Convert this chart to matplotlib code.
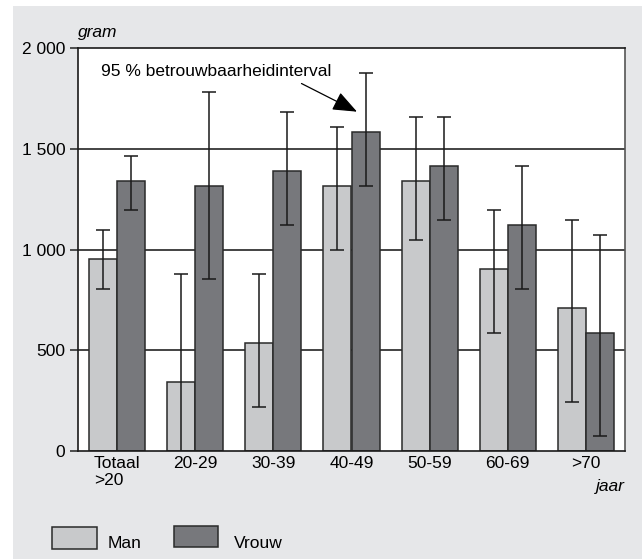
import numpy as np
import matplotlib.pyplot as plt
from matplotlib.patches import Rectangle

plt.rcParams['font.family'] = ['Liberation Sans', 'DejaVu Sans']

categories = ['Totaal\n>20', '20-29', '30-39', '40-49', '50-59', '60-69', '>70']
man = [951, 343, 537, 1317, 1342, 901, 708]
man_low = [805, -190, 219, 999, 1049, 585, 244]
man_high = [1097, 877, 877, 1611, 1659, 1195, 1147]
vrouw = [1342, 1317, 1390, 1586, 1415, 1122, 585]
vrouw_low = [1195, 853, 1122, 1317, 1147, 805, 73]
vrouw_high = [1463, 1781, 1685, 1877, 1659, 1415, 1074]

licht = '#c8c9cb'
donker = '#77787c'
rand = '#2a2a2a'
achtergrond = '#e6e7e9'

fig = plt.figure(figsize=(6.42, 5.59), dpi=100, facecolor='white')
fig.patches.append(Rectangle((13 / 642, 0), 1, (559 - 6) / 559, transform=fig.transFigure,
                             facecolor=achtergrond, edgecolor='none', zorder=-10))
ax = fig.add_axes([78 / 642, (559 - 450.7) / 559, 547 / 642, 402.4 / 559])

x = np.arange(len(categories))
w = 0.36
man = np.array(man)
vrouw = np.array(vrouw)
man_err = [man - np.array(man_low), np.array(man_high) - man]
vrouw_err = [vrouw - np.array(vrouw_low), np.array(vrouw_high) - vrouw]

for yv in [500, 1000, 1500]:
    ax.axhline(yv, color='#111111', lw=1.1, zorder=0)

ax.bar(x - w / 2, man, w, color=licht, edgecolor=rand, lw=1.1, zorder=2)
ax.bar(x + w / 2, vrouw, w, color=donker, edgecolor=rand, lw=1.1, zorder=2)
ax.errorbar(x - w / 2, man, yerr=man_err, fmt='none', ecolor='#1a1a1a', elinewidth=1.1,
            capsize=5.3, capthick=1.1, zorder=3)
ax.errorbar(x + w / 2, vrouw, yerr=vrouw_err, fmt='none', ecolor='#1a1a1a', elinewidth=1.1,
            capsize=5.3, capthick=1.1, zorder=3)

ax.set_xlim(-0.5, len(categories) - 0.5)
ax.set_ylim(0, 2000)
ax.set_yticks([0, 500, 1000, 1500, 2000])
ax.set_yticklabels(['0', '500', '1 000', '1 500', '2 000'], fontsize=12.5)
ax.set_xticks(x)
ax.set_xticklabels(categories, fontsize=12.5, multialignment='left', linespacing=1.15)
ax.tick_params(axis='x', length=0, pad=4)
ax.tick_params(axis='y', direction='out', length=6, width=1.1, color='#222222', pad=3)

for s in ['left', 'top', 'bottom']:
    ax.spines[s].set_color('#1a1a1a')
    ax.spines[s].set_linewidth(1.2)
ax.spines['right'].set_color('#555555')
ax.spines['right'].set_linewidth(1.2)

ax.text(0.0, 1.04, 'gram', transform=ax.transAxes, fontsize=12.5, style='italic',
        ha='left', va='center')
ax.text(1.0, -0.089, 'jaar', transform=ax.transAxes, fontsize=12.5, style='italic',
        ha='right', va='center')

ax.annotate('95 % betrouwbaarheidinterval', xy=(3.07, 1685), xytext=(-0.2, 1884),
            fontsize=12.5, ha='left', va='center', zorder=5)
ax.annotate('', xy=(3.07, 1685), xytext=(2.36, 1825),
            arrowprops=dict(arrowstyle='-|>,head_length=1.5,head_width=0.6',
                            color='black', lw=0.9, shrinkA=0, shrinkB=0), zorder=5)

# legend drawn by hand as in the original
fig.patches.append(Rectangle((52 / 642, 1 - 549 / 559), 45 / 642, 22 / 559, transform=fig.transFigure,
                             facecolor=licht, edgecolor=rand, lw=1.1))
fig.patches.append(Rectangle((174 / 642, 1 - 547 / 559), 44 / 642, 21 / 559, transform=fig.transFigure,
                             facecolor=donker, edgecolor=rand, lw=1.1))
fig.text(108 / 642, 1 - 544 / 559, 'Man', fontsize=12.5, ha='left', va='center')
fig.text(234 / 642, 1 - 544 / 559, 'Vrouw', fontsize=12.5, ha='left', va='center')

fig.savefig('out.png', dpi=100, facecolor=fig.get_facecolor())
